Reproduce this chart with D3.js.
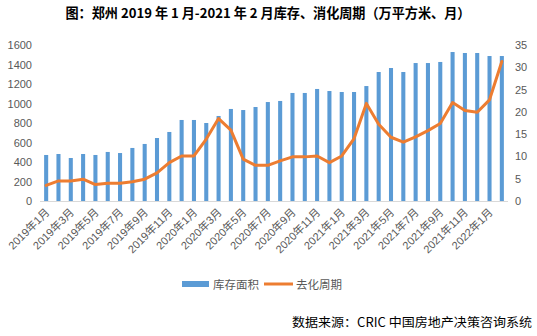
<!DOCTYPE html>
<html>
<head>
<meta charset="utf-8">
<script src="https://cdn.jsdelivr.net/npm/d3@7/dist/d3.min.js"></script>
<style>
  html, body { margin: 0; padding: 0; background: #fff; }
  svg { display: block; }
  text { font-family: "Liberation Sans", "Noto Sans CJK SC", sans-serif; }
</style>
</head>
<body>
<svg id="chart" width="537" height="336"></svg>
<script>
const titleText = "图：郑州 2019 年 1 月-2021 年 2 月库存、消化周期（万平方米、月）";
const sourceText = "数据来源：CRIC 中国房地产决策咨询系统";
const seriesNames = ["库存面积", "去化周期"];

const months = [];
for (let y = 2019; y <= 2022; y++) {
  for (let m = 1; m <= 12; m++) {
    if (y === 2022 && m > 2) break;
    months.push(y + "年" + m + "月");
  }
}
const inventory = [472, 482, 441, 482, 472, 503, 492, 544, 585, 646, 708, 831, 831, 800, 872, 944, 933, 964, 1015, 1026,
  1108, 1108, 1149, 1128, 1118, 1118, 1179, 1323, 1364, 1323, 1415, 1415, 1426, 1528, 1518, 1518, 1487, 1487];
const cycle = [3.5, 4.5, 4.5, 4.9, 3.7, 4.0, 4.0, 4.3, 4.9, 6.3, 8.6, 10.1, 10.1, 13.9, 18.5, 15.9, 9.4, 8.0, 8.0, 9.0,
  9.9, 9.9, 10.1, 8.6, 10.1, 14.0, 21.9, 17.2, 14.3, 13.2, 14.4, 15.8, 17.4, 22.1, 20.3, 19.9, 22.7, 31.3];
const leftTicks = [0, 200, 400, 600, 800, 1000, 1200, 1400, 1600];
const rightTicks = [0, 5, 10, 15, 20, 25, 30, 35];

const svg = d3.select("#chart");
const plot = { left: 40, right: 508, top: 45, bottom: 201 };

const x = d3.scaleBand().domain(months).range([plot.left, plot.right]).paddingInner(0.67).paddingOuter(0.335);
const yL = d3.scaleLinear().domain([0, 1600]).range([plot.bottom, plot.top]);
const yR = d3.scaleLinear().domain([0, 35]).range([plot.bottom, plot.top]);

// title
svg.append("text")
  .attr("x", 268).attr("y", 18)
  .attr("text-anchor", "middle")
  .attr("font-size", 13.5).attr("font-weight", "bold")
  .attr("fill", "#000")
  .style("font-family", "'Noto Sans CJK SC', serif")
  .attr("textLength", 405).attr("lengthAdjust", "spacingAndGlyphs")
  .text(titleText);

// bars
svg.append("g").selectAll("rect").data(inventory).join("rect")
  .attr("x", (d, i) => x(months[i]))
  .attr("width", x.bandwidth())
  .attr("y", d => yL(d))
  .attr("height", d => yL(0) - yL(d))
  .attr("fill", "#5B9BD5");

// baseline
svg.append("line")
  .attr("x1", plot.left).attr("x2", plot.right)
  .attr("y1", plot.bottom + 0.5).attr("y2", plot.bottom + 0.5)
  .attr("stroke", "#D9D9D9").attr("stroke-width", 1);

// line
const line = d3.line()
  .x((d, i) => x(months[i]) + x.bandwidth() / 2)
  .y(d => yR(d));
svg.append("path").datum(cycle)
  .attr("d", line)
  .attr("fill", "none")
  .attr("stroke", "#ED7D31")
  .attr("stroke-width", 3)
  .attr("stroke-linejoin", "round")
  .attr("stroke-linecap", "round");

// left axis
const axL = d3.axisLeft(yL).tickValues(leftTicks).tickFormat(d3.format("d")).tickSize(0).tickPadding(0);
const gL = svg.append("g").attr("transform", "translate(32,0)").call(axL);
gL.select(".domain").remove();
gL.selectAll("text").attr("font-size", 11).attr("fill", "#595959")
  .style("font-family", "'Liberation Sans', sans-serif");

// right axis
const axR = d3.axisRight(yR).tickValues(rightTicks).tickFormat(d3.format("d")).tickSize(0).tickPadding(0);
const gR = svg.append("g").attr("transform", "translate(515,0)").call(axR);
gR.select(".domain").remove();
gR.selectAll("text").attr("font-size", 11).attr("fill", "#595959")
  .style("font-family", "'Liberation Sans', sans-serif");

// x labels (every other month)
const xLabels = months.filter((m, i) => i % 2 === 0);
svg.append("g").selectAll("text").data(xLabels).join("text")
  .attr("transform", d => {
    const cx = x(d) + x.bandwidth() / 2 + 4;
    return `translate(${cx},${plot.bottom + 12}) rotate(-45)`;
  })
  .attr("text-anchor", "end")
  .attr("font-size", 11)
  .attr("fill", "#595959")
  .text(d => d);

// legend
const lg = svg.append("g");
lg.append("rect").attr("x", 182).attr("y", 281).attr("width", 27).attr("height", 6).attr("fill", "#5B9BD5");
lg.append("text").attr("x", 213).attr("y", 289).attr("font-size", 11.5).attr("fill", "#595959").text(seriesNames[0]);
lg.append("line").attr("x1", 264).attr("x2", 293).attr("y1", 284).attr("y2", 284)
  .attr("stroke", "#ED7D31").attr("stroke-width", 3);
lg.append("text").attr("x", 296).attr("y", 289).attr("font-size", 11.5).attr("fill", "#595959").text(seriesNames[1]);

// source
svg.append("text")
  .attr("x", 292).attr("y", 327)
  .attr("font-size", 12.5)
  .attr("fill", "#000")
  .style("font-family", "'Noto Sans CJK SC', serif")
  .attr("textLength", 240).attr("lengthAdjust", "spacingAndGlyphs")
  .text(sourceText);
</script>
</body>
</html>
